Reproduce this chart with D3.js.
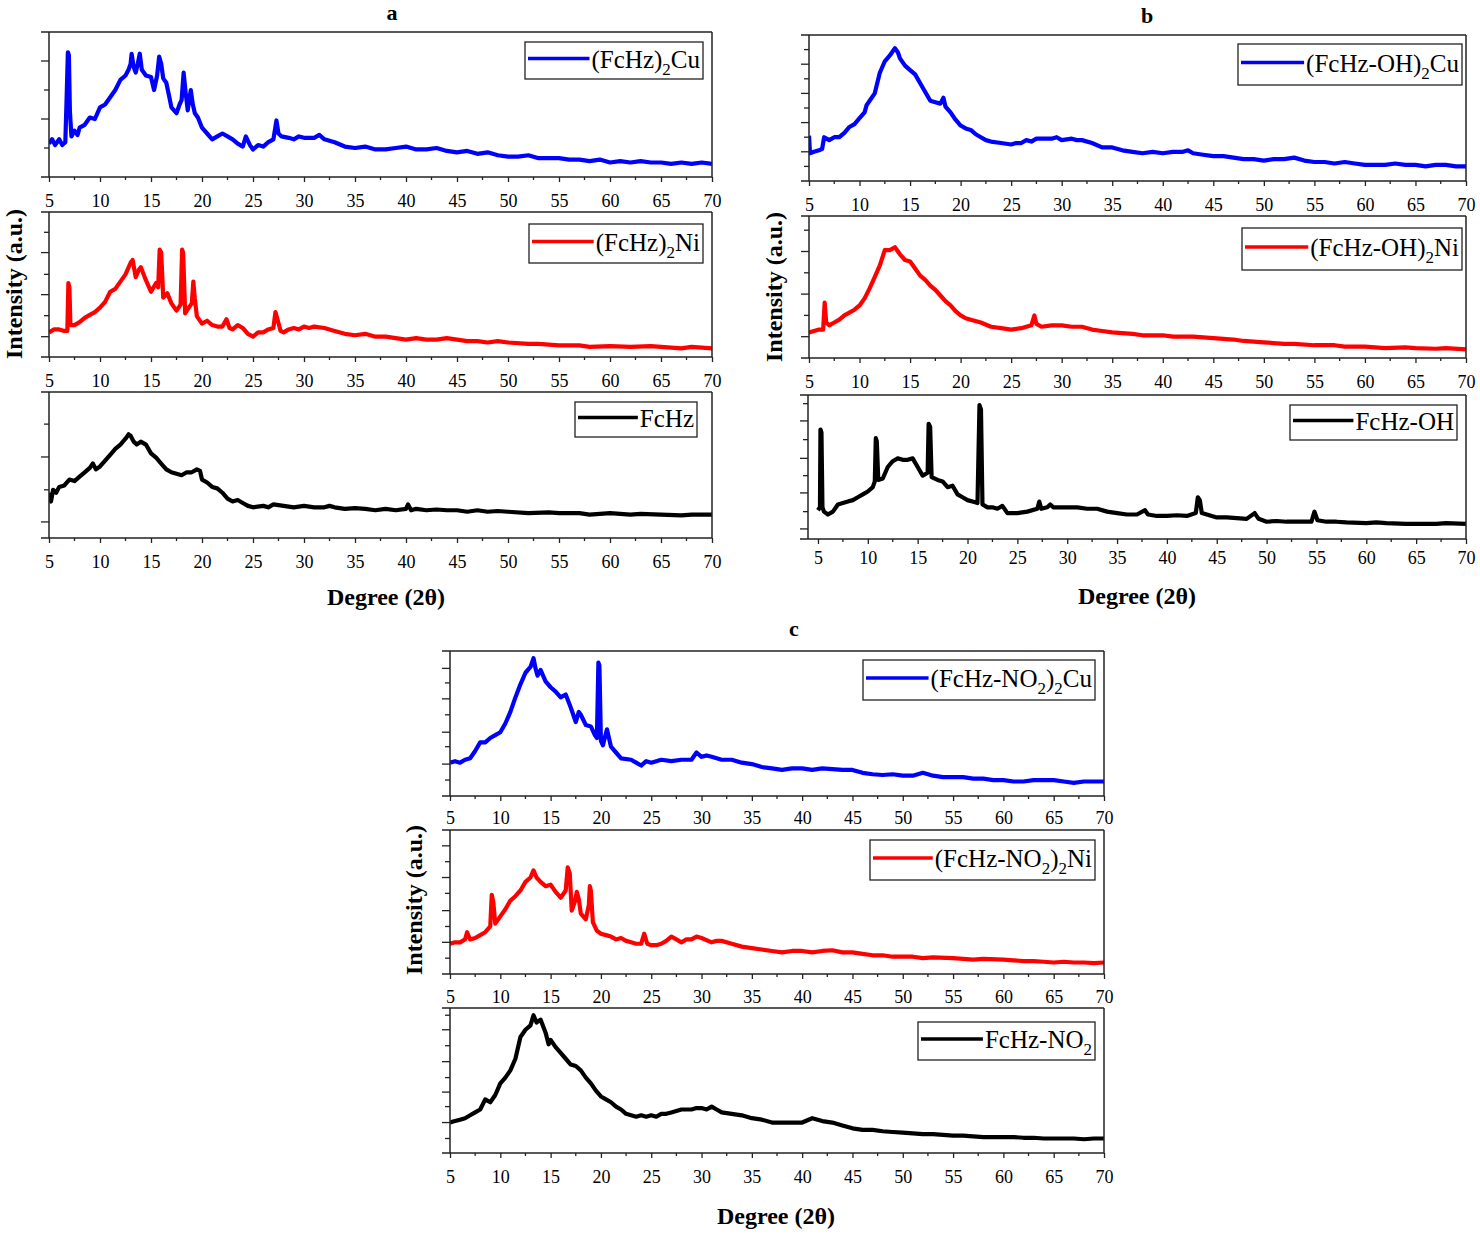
<!DOCTYPE html>
<html>
<head>
<meta charset="utf-8">
<script src="https://cdn.jsdelivr.net/npm/d3@7/dist/d3.min.js"></script>
<style>
  body { margin: 0; background: #fff; }
  svg { display: block; }
  text { font-family: "Liberation Serif", "Times New Roman", serif; fill: #000; }
</style>
</head>
<body>
<div id="chart"></div>
<script>
/**
 * DATA  (2θ in degrees, intensity in a.u. rescaled 0-100 per pattern)
 * */
const cuA = [[5,23],[5.3,26],[5.6,22],[6,26],[6.3,22],[6.6,24],[6.75,60],[6.85,86],[6.95,84],[7.05,45],[7.2,28],[7.5,32],[7.8,29],[8,34],[8.5,36],[9,41],[9.5,40],[10,48],[10.5,50],[11,55],[11.5,60],[12,67],[12.5,70],[12.8,74],[13,78],[13.1,85],[13.3,76],[13.5,72],[13.7,78],[13.9,85],[14.1,74],[14.5,70],[15,69],[15.3,60],[15.6,70],[15.8,83],[16,78],[16.2,68],[16.5,65],[16.8,55],[17,48],[17.5,44],[17.8,50],[18,53],[18.2,72],[18.4,58],[18.6,46],[18.9,60],[19.1,50],[19.3,44],[19.6,41],[20,34],[20.5,30],[21,26],[21.5,28],[22,30],[22.5,28],[23,26],[23.5,23],[24,21],[24.3,28],[24.7,22],[25,19],[25.5,22],[26,21],[26.5,24],[27,26],[27.3,39],[27.5,30],[27.8,28],[28.5,27],[29,26],[29.5,28],[30,27],[31,27],[31.5,29],[32,26],[33,24],[34,21],[35,20],[36,21],[37,19],[38,19],[39,20],[40,21],[41,19],[42,19],[43,20],[44,18],[45,17],[46,18],[47,16],[48,17],[49,15],[50,14],[51,14],[52,15],[53,13],[54,13],[55,13],[56,12],[57,12],[58,11],[59,12],[60,10],[61,11],[62,10],[63,11],[64,10],[65,10],[66,9],[67,10],[68,9],[69,10],[70,9]];
const niA = [[5,17],[5.5,19],[6,19],[6.5,18],[6.8,18],[6.9,51],[7.0,48],[7.1,22],[7.5,22],[8,24],[8.5,27],[9,29],[9.5,31],[10,34],[10.5,38],[11,45],[11.5,47],[12,52],[12.5,57],[13,65],[13.2,67],[13.5,55],[13.8,60],[14,62],[14.5,53],[15,45],[15.5,51],[15.7,48],[15.85,74],[16,72],[16.2,41],[16.6,44],[17,37],[17.5,32],[17.9,36],[18.05,74],[18.15,72],[18.35,30],[18.7,34],[19,37],[19.15,52],[19.3,40],[19.5,28],[20,23],[20.5,25],[21,22],[21.5,21],[22,21],[22.4,26],[22.7,20],[23,19],[23.5,22],[24,20],[24.5,16],[25,14],[25.5,17],[26,17],[26.5,19],[27,20],[27.2,31],[27.4,26],[27.7,18],[28,17],[28.5,19],[29,20],[29.5,19],[30,21],[30.5,20],[31,21],[32,20],[33,18],[34,16],[35,15],[36,16],[37,14],[38,14],[39,13],[40,12],[41,13],[42,12],[43,12],[44,13],[45,12],[46,11],[47,11],[48,10],[49,11],[50,10],[52,9],[53,9],[55,8],[57,8],[58,7],[60,7.5],[62,7],[64,7.5],[65,7],[67,6],[68,7],[70,6]];
const hzA = [[5,31],[5.2,25],[5.4,33],[5.7,31],[6,35],[6.5,36],[7,40],[7.5,39],[8,42],[8.5,45],[9,48],[9.3,51],[9.6,47],[10,49],[10.5,53],[11,57],[11.5,61],[12,64],[12.5,68],[12.8,71],[13,70],[13.3,66],[13.6,64],[14,66],[14.5,64],[15,58],[15.5,55],[16,51],[16.5,47],[17,45],[17.5,44],[18,43],[18.5,45],[19,45],[19.5,47],[19.8,46],[20,40],[20.5,38],[21,35],[21.5,34],[22,31],[22.5,27],[23,25],[23.5,26],[24,24],[24.5,22],[25,21],[26,22],[26.5,21],[27,23],[28,22],[29,21],[30,22],[31,21],[32,21],[32.5,22],[33,21],[34,20],[35,20.5],[36,20],[37,19],[38,20],[39,19],[40,20],[40.2,23],[40.5,19],[41,20],[42,19],[43,19.5],[44,19],[45,19],[46,18],[47,19],[48,18],[49,18.5],[50,18],[52,17],[54,17.5],[55,17],[57,17],[58,16],[60,17],[62,16],[63,16.5],[65,16],[67,15.5],[68,16],[70,16]];

const ohCu = [[5,31],[5.1,19],[5.5,20],[6,21],[6.3,22],[6.5,30],[7,28],[7.5,30],[8,30],[8.5,33],[9,37],[9.5,39],[10,43],[10.5,47],[10.7,52],[11,55],[11.5,60],[12,74],[12.5,82],[13,86],[13.5,91],[13.8,88],[14,84],[14.5,79],[15,76],[15.5,73],[16,67],[16.5,61],[17,55],[17.5,54],[18,53],[18.3,57],[18.5,51],[19,47],[19.5,42],[20,38],[20.5,36],[21,35],[21.5,32],[22,30],[22.5,28],[23,27],[24,26],[25,25],[25.5,26],[26,26],[26.5,28],[27,27],[27.5,29],[28,29],[29,29],[29.5,30],[30,28],[31,29],[31.5,28],[32,28],[33,26],[34,23],[35,23],[36,21],[37,20],[38,19],[39,20],[40,19],[41,20],[42,20],[42.5,21],[43,19],[44,18],[45,17],[46,17],[47,16],[48,15],[49,15],[50,14],[51,15],[52,15],[53,16],[54,14],[55,13],[56,13],[57,12],[58,13],[59,12],[60,11],[61,11],[62,11],[63,12],[64,11],[65,11],[66,10],[67,11],[68,11],[69,10],[70,10]];
const ohNi = [[5,18],[5.5,19],[6,20],[6.4,20],[6.55,39],[6.7,25],[7,23],[7.5,25],[8,27],[8.5,30],[9,32],[9.5,34],[10,37],[10.5,42],[11,49],[11.5,57],[12,65],[12.5,76],[13,76],[13.5,78],[14,73],[14.5,69],[15,68],[15.5,63],[16,58],[16.5,55],[17,51],[17.5,48],[18,44],[18.5,40],[19,37],[19.5,33],[20,30],[20.5,28],[21,27],[22,25],[23,22],[24,21],[25,20],[26,21],[27,23],[27.3,30],[27.5,24],[28,22],[29,23],[30,23],[31,22],[32,22],[33,20],[34,19],[35,18],[37,17],[38,16],[40,16],[41,15],[43,15],[45,14],[47,13],[48,12],[50,11],[52,10],[53,10],[55,9],[57,9],[58,8],[60,8],[62,7],[64,7.5],[65,7],[67,6.5],[68,7],[70,6]];
const ohL = [[5,20],[5.2,22],[5.25,76],[5.35,74],[5.45,22],[5.6,19],[6,17],[6.5,19],[7,24],[7.5,25],[8,26],[8.5,27],[9,29],[9.5,31],[10,33],[10.5,36],[10.7,40],[10.8,70],[10.9,68],[11.05,41],[11.5,42],[12,50],[12.5,54],[13,56],[13.5,55],[14,55],[14.5,56],[15,50],[15.5,44],[16,46],[16.1,80],[16.25,78],[16.4,43],[17,41],[17.5,40],[18,36],[18.5,37],[19,31],[19.5,29],[20,27],[20.5,26],[21,25],[21.2,93],[21.35,90],[21.5,24],[22,22],[22.5,22],[23,21],[23.5,23],[24,18],[25,18],[26,19],[27,21],[27.2,26],[27.4,21],[28,22],[28.3,24],[28.6,22],[30,22],[31,22],[32,21],[33,21],[34,19],[35,18],[36,17],[37,17],[37.8,20],[38.1,17],[39,16],[40,16],[41,16.5],[42,16],[42.9,18],[43.1,29],[43.3,27],[43.5,18],[44,17],[45,15],[46,15],[47,14.5],[48,14],[48.8,18],[49.2,14],[50,12],[51,12.5],[52,12],[53,12],[54.5,12],[54.8,19],[55.1,13],[56,12],[57,12],[58,11.5],[60,11],[61,11.5],[62,11],[64,10.5],[65,10.5],[67,10.5],[68,11],[70,10.5]];

const no2Cu = [[5,23],[5.5,24],[6,23],[6.5,25],[7,26],[7.5,31],[8,37],[8.5,37],[9,40],[9.5,42],[10,44],[10.5,50],[11,58],[11.5,68],[12,77],[12.5,85],[13,89],[13.3,95],[13.5,88],[13.7,83],[14,87],[14.5,79],[15,75],[15.5,72],[16,68],[16.5,70],[17,61],[17.5,51],[17.8,58],[18,56],[18.5,49],[19,48],[19.4,42],[19.6,40],[19.75,92],[19.85,90],[20.0,38],[20.2,35],[20.6,46],[21,34],[21.5,30],[22,26],[23,25],[23.5,23],[24,21],[24.5,24],[25,23],[26,25],[27,24],[28,25],[29,25],[29.5,30],[30,27],[30.5,28],[31,27],[32,25],[33,25],[34,23],[35,22],[36,20],[37,19],[38,18],[39,19],[40,19],[41,18],[42,19],[43,18.5],[44,18],[45,18],[46,16],[47,15],[48,14.5],[49,15],[50,14],[51,14],[52,16],[53,14],[54,13],[55,13],[56,13],[57,12],[58,12],[59,11],[60,11],[61,10],[62,10],[63,11],[64,11],[65,11],[66,10],[67,9],[68,10],[69,10],[70,10]];
const no2Ni = [[5,21],[5.5,22],[6,22],[6.5,24],[6.7,29],[7,24],[7.5,25],[8,27],[8.5,29],[9,33],[9.15,55],[9.3,50],[9.5,35],[10,40],[10.5,45],[11,51],[11.5,54],[12,58],[12.5,64],[13,67],[13.3,72],[13.6,67],[14,64],[14.5,61],[15,62],[15.5,57],[16,53],[16.5,58],[16.7,74],[16.9,70],[17.1,44],[17.4,50],[17.6,57],[17.8,52],[18,42],[18.5,38],[18.8,48],[18.9,61],[19.0,58],[19.2,36],[19.6,30],[20,28],[20.5,27],[21,26],[21.5,24],[22,25],[22.5,23],[23,22],[23.5,21],[24,21],[24.3,28],[24.6,21],[25,20],[25.5,20],[26,21],[26.5,23],[27,26],[27.5,24],[28,22],[28.5,24],[29,24],[29.5,26],[30,25],[31,22],[31.5,23],[32,23],[33,21],[34,19],[35,18],[36,17],[37,16],[38,15],[39,16],[40,16],[41,15],[42,16],[43,16.5],[44,15],[45,15],[46,14],[47,13],[48,13],[49,12],[50,12],[51,12],[52,11],[53,11.5],[55,11],[56,10.5],[57,10],[58,10.5],[60,10],[61,9.5],[62,9],[63,9],[64,8.5],[65,8],[66,8.5],[67,8],[68,8],[69,7.5],[70,8]];
const no2L = [[5,21],[5.5,22],[6,23],[6.5,24],[7,26],[7.5,28],[8,30],[8.5,37],[9,35],[9.5,40],[10,48],[10.5,52],[11,57],[11.5,65],[12,80],[12.5,85],[13,88],[13.3,95],[13.6,90],[14,92],[14.5,83],[14.8,75],[15,78],[15.5,73],[16,69],[16.5,65],[17,61],[17.5,60],[18,57],[18.5,52],[19,48],[19.5,43],[20,39],[20.5,37],[21,35],[21.5,32],[22,30],[22.5,27],[23,26],[23.5,25],[24,26],[24.5,25],[25,26],[25.5,25],[26,27],[26.5,27],[27,28],[27.5,29],[28,30],[28.5,30],[29,30],[29.5,31],[30,31],[30.5,30],[31,32],[31.5,30],[32,28],[33,27],[34,26],[35,24],[36,23],[37,21],[38,21],[39,21],[40,21],[41,24],[42,22],[43,21],[44,19],[45,17],[46,16],[47,16],[48,15],[49,14.5],[50,14],[51,13.5],[52,13],[53,13],[54,12.5],[55,12],[56,12],[57,11.5],[58,11],[59,11],[60,11],[61,11],[62,10.5],[63,10.5],[64,10],[65,10],[66,10],[67,10],[68,9.5],[69,10],[70,10]];

// tick values
const xTickValues = d3.range(5, 71, 5);
const xMinorValues = d3.range(7.5, 70, 5);
const yMajor = {
  cuA: [40, 80], niA: [14, 43, 72], hzA: [11, 55.5],
  ohCu: [20, 40, 60, 80], ohNi: [15, 45, 75], ohL: [7, 32, 56, 82],
  no2Cu: [22, 44, 67, 88], no2Ni: [22, 44, 67, 89], no2L: [21, 42, 63, 85]
};
const yMinor = {
  cuA: [20, 60], niA: [28.5, 57, 86], hzA: [33, 78],
  ohCu: [10, 30, 50, 70, 90], ohNi: [30, 60, 90], ohL: [19, 44, 69, 94],
  no2Cu: [11, 34, 56, 78], no2Ni: [11, 33, 56, 78], no2L: [10, 32, 52, 74, 95]
};

// legend names ("_" puts the next character in subscript)
const seriesNames = {
  cuA: "(FcHz)_2Cu", niA: "(FcHz)_2Ni", hzA: "FcHz",
  ohCu: "(FcHz-OH)_2Cu", ohNi: "(FcHz-OH)_2Ni", ohL: "FcHz-OH",
  no2Cu: "(FcHz-NO_2)_2Cu", no2Ni: "(FcHz-NO_2)_2Ni", no2L: "FcHz-NO_2"
};

/**
 * LAYOUT
 * */
const width = 1480, height = 1235;
const BLUE = "#0000ff", RED = "#ff0000", BLACK = "#000000";

const plots = [
  { key: "cuA", data: cuA, color: BLUE, x: [49, 712], y: [32, 177], dom: [5, 70], pad: 12, leg: [525, 42, 178, 37] },
  { key: "niA", data: niA, color: RED, x: [49, 712], y: [212, 357], dom: [5, 70], pad: 12, leg: [529, 224, 174, 39] },
  { key: "hzA", data: hzA, color: BLACK, x: [49, 712], y: [392, 538], dom: [5, 70], pad: 12, leg: [575, 402, 122, 35] },
  { key: "ohCu", data: ohCu, color: BLUE, x: [809, 1466], y: [35, 181], dom: [5, 70], pad: 12, leg: [1238, 44, 224, 41] },
  { key: "ohNi", data: ohNi, color: RED, x: [809, 1466], y: [216, 358], dom: [5, 70], pad: 12, leg: [1242, 228, 220, 42] },
  { key: "ohL", data: ohL, color: BLACK, x: [808, 1466], y: [395, 539], dom: [4, 70], pad: 7, leg: [1290, 405, 167, 35] },
  { key: "no2Cu", data: no2Cu, color: BLUE, x: [450, 1104], y: [651, 796], dom: [5, 70], pad: 10, leg: [863, 660, 232, 40] },
  { key: "no2Ni", data: no2Ni, color: RED, x: [450, 1104], y: [830, 974], dom: [5, 70], pad: 11, leg: [870, 840, 225, 40] },
  { key: "no2L", data: no2L, color: BLACK, x: [450, 1104], y: [1008, 1153], dom: [5, 70], pad: 12, leg: [918, 1022, 177, 38] }
];

const panels = [
  { letter: "a", lx: 392, ly: 20, xt: [386, 605], yt: [22, 284] },
  { letter: "b", lx: 1147, ly: 23, xt: [1137, 604], yt: [782, 287] },
  { letter: "c", lx: 794, ly: 636, xt: [776, 1224], yt: [422, 900] }
];

const svg = d3.select("#chart").append("svg")
  .attr("width", width)
  .attr("height", height);

function addLabel(sel, str, size) {
  // split into normal / subscript runs
  let runs = [], i = 0, buf = "";
  while (i < str.length) {
    if (str[i] === "_") {
      if (buf) runs.push([buf, false]);
      buf = "";
      runs.push([str[i + 1], true]);
      i += 2;
    } else { buf += str[i]; i++; }
  }
  if (buf) runs.push([buf, false]);
  let shifted = false;
  runs.forEach(([t, sub]) => {
    const ts = sel.append("tspan").text(t);
    if (sub) { ts.attr("font-size", size * 0.68).attr("dy", shifted ? 0 : size * 0.28); shifted = true; }
    else if (shifted) { ts.attr("dy", -size * 0.28); shifted = false; }
  });
}

plots.forEach(p => {
  const g = svg.append("g");
  const xs = d3.scaleLinear().domain(p.dom).range(p.x);
  const ys = d3.scaleLinear().domain([0, 100]).range([p.y[1], p.y[0]]);

  const clipId = "clip-" + p.key;
  g.append("clipPath").attr("id", clipId)
    .append("rect")
    .attr("x", p.x[0]).attr("y", p.y[0] - 2)
    .attr("width", p.x[1] - p.x[0]).attr("height", p.y[1] - p.y[0] + 2);

  // trace
  const line = d3.line().x(d => xs(d[0])).y(d => ys(d[1]));
  g.append("path")
    .datum(p.data)
    .attr("clip-path", `url(#${clipId})`)
    .attr("fill", "none")
    .attr("stroke", p.color)
    .attr("stroke-width", 4.2)
    .attr("stroke-linejoin", "round")
    .attr("d", line);

  // bottom axis
  const xAxis = d3.axisBottom(xs).tickValues(xTickValues).tickSize(5).tickPadding(p.pad);
  const gx = g.append("g").attr("transform", `translate(0,${p.y[1]})`).call(xAxis);
  gx.select(".domain").remove();
  gx.selectAll("text").attr("font-size", 18).attr("font-family", "Liberation Serif");
  gx.selectAll("line").attr("stroke", "#222").attr("stroke-width", 1.3);
  g.append("g").selectAll("line")
    .data(xMinorValues.filter(v => v > p.dom[0] && v < p.dom[1]))
    .join("line")
    .attr("x1", d => xs(d)).attr("x2", d => xs(d))
    .attr("y1", p.y[1]).attr("y2", p.y[1] + 3)
    .attr("stroke", "#222").attr("stroke-width", 1.3);

  // left axis ticks (no labels)
  const gy = g.append("g");
  gy.selectAll("line.maj").data(yMajor[p.key]).join("line")
    .attr("x1", p.x[0] - 8).attr("x2", p.x[0])
    .attr("y1", d => ys(d)).attr("y2", d => ys(d))
    .attr("stroke", "#222").attr("stroke-width", 1.3);
  gy.selectAll("line.min").data(yMinor[p.key]).join("line")
    .attr("x1", p.x[0] - 5).attr("x2", p.x[0])
    .attr("y1", d => ys(d)).attr("y2", d => ys(d))
    .attr("stroke", "#222").attr("stroke-width", 1.3);

  // frame (top and bottom edges run a bit past the left axis)
  const fr = g.append("g").attr("stroke", "#222").attr("stroke-width", 1.5).attr("fill", "none");
  fr.append("line").attr("x1", p.x[0] - 8).attr("x2", p.x[1]).attr("y1", p.y[0]).attr("y2", p.y[0]);
  fr.append("line").attr("x1", p.x[0] - 8).attr("x2", p.x[1]).attr("y1", p.y[1]).attr("y2", p.y[1]);
  fr.append("line").attr("x1", p.x[0]).attr("x2", p.x[0]).attr("y1", p.y[0]).attr("y2", p.y[1]);
  fr.append("line").attr("x1", p.x[1]).attr("x2", p.x[1]).attr("y1", p.y[0]).attr("y2", p.y[1]);

  // legend
  const [lx, ly, lw, lh] = p.leg;
  const lg = g.append("g");
  lg.append("rect")
    .attr("x", lx).attr("y", ly).attr("width", lw).attr("height", lh)
    .attr("fill", "#fff").attr("stroke", "#222").attr("stroke-width", 1.3);
  const fs = 25;
  const txt = lg.append("text")
    .attr("x", lx + lw - 3).attr("y", ly + lh / 2 + 7)
    .attr("text-anchor", "end")
    .attr("font-size", fs);
  addLabel(txt, seriesNames[p.key], fs);
  const tw = txt.node().getComputedTextLength();
  lg.append("line")
    .attr("x1", lx + 3).attr("x2", lx + lw - 3 - tw - 2)
    .attr("y1", ly + lh / 2 - 2).attr("y2", ly + lh / 2 - 2)
    .attr("stroke", p.color).attr("stroke-width", 3.5);
});

// panel letters and axis titles
panels.forEach(pn => {
  svg.append("text")
    .attr("x", pn.lx).attr("y", pn.ly)
    .attr("text-anchor", "middle")
    .attr("font-size", 22).attr("font-weight", "bold")
    .text(pn.letter);
  svg.append("text")
    .attr("x", pn.xt[0]).attr("y", pn.xt[1])
    .attr("text-anchor", "middle")
    .attr("font-size", 24).attr("font-weight", "bold")
    .text("Degree (2θ)");
  svg.append("text")
    .attr("transform", `translate(${pn.yt[0]},${pn.yt[1]}) rotate(-90)`)
    .attr("text-anchor", "middle")
    .attr("font-size", 24).attr("font-weight", "bold")
    .text("Intensity (a.u.)");
});
</script>
</body>
</html>
